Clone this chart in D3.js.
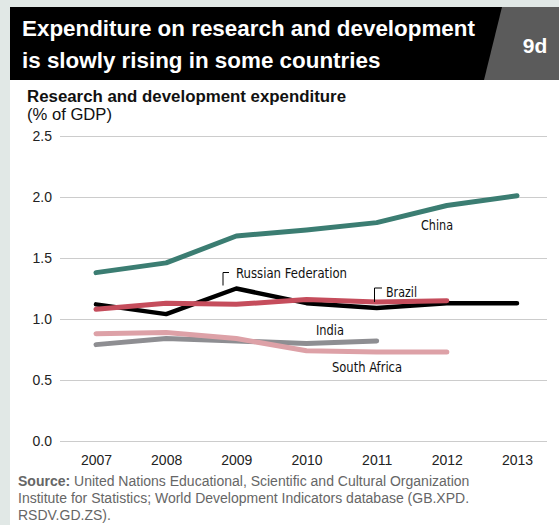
<!DOCTYPE html>
<html><head><meta charset="utf-8">
<script src="https://cdn.jsdelivr.net/npm/d3@7/dist/d3.min.js"></script>
<style>
html,body{margin:0;padding:0;background:#e1e8e6;}
svg{display:block;}
</style></head>
<body>
<script>
const years = [2007, 2008, 2009, 2010, 2011, 2012, 2013];
const yTicks = [0.0, 0.5, 1.0, 1.5, 2.0, 2.5];
const china = [1.38, 1.46, 1.68, 1.73, 1.79, 1.93, 2.01];
const russia = [1.12, 1.04, 1.25, 1.13, 1.09, 1.13, 1.13];
const brazil = [1.08, 1.13, 1.12, 1.16, 1.14, 1.15];
const india = [0.79, 0.84, 0.82, 0.80, 0.82];
const southAfrica = [0.88, 0.89, 0.84, 0.74, 0.73, 0.73];

const W = 559, H = 525;
const svg = d3.select("body").append("svg").attr("width", W).attr("height", H);
svg.append("rect").attr("width", W).attr("height", H).attr("fill", "#e1e8e6");
svg.append("rect").attr("x", 10).attr("y", 7).attr("width", W - 10).attr("height", H - 7).attr("fill", "#ffffff");

// Title bar
svg.append("rect").attr("x", 10).attr("y", 7).attr("width", 500).attr("height", 73).attr("fill", "#000");
svg.append("path").attr("d", "M502,7 L559,7 L559,80 L484,80 Z").attr("fill", "#5b5b5b");
const tf = "'Liberation Sans', Arial, sans-serif";
svg.append("text").attr("x", 22).attr("y", 35.5).attr("fill", "#fff").attr("font-family", tf)
  .attr("font-weight", "bold").attr("font-size", 22.4).text("Expenditure on research and development");
svg.append("text").attr("x", 22).attr("y", 67.5).attr("fill", "#fff").attr("font-family", tf)
  .attr("font-weight", "bold").attr("font-size", 22.4).text("is slowly rising in some countries");
svg.append("text").attr("x", 535).attr("y", 52.5).attr("fill", "#fff").attr("font-family", tf)
  .attr("font-weight", "bold").attr("font-size", 21).attr("text-anchor", "middle").text("9d");

// Subtitle
svg.append("text").attr("x", 27).attr("y", 101.5).attr("fill", "#111").attr("font-family", tf)
  .attr("font-weight", "bold").attr("font-size", 16).attr("textLength", 319).attr("lengthAdjust", "spacingAndGlyphs")
  .text("Research and development expenditure");
svg.append("text").attr("x", 27).attr("y", 120).attr("fill", "#111").attr("font-family", tf)
  .attr("font-size", 16).attr("textLength", 85).attr("lengthAdjust", "spacingAndGlyphs").text("(% of GDP)");

const x = d3.scalePoint().domain(years).range([96, 517]);
const y = d3.scaleLinear().domain([0, 2.5]).range([441, 136]);

// Grid + y labels
const yAxis = d3.axisLeft(y).tickValues(yTicks).tickFormat(d3.format(".1f")).tickSize(-487).tickPadding(8);
const gy = svg.append("g").attr("transform", "translate(60,0)").call(yAxis);
gy.select(".domain").remove();
gy.selectAll(".tick line").attr("stroke", "#cccccc").attr("stroke-width", 1.2);
gy.selectAll(".tick text").attr("font-family", tf).attr("font-size", 14).attr("fill", "#222");

// X labels
const xAxis = d3.axisBottom(x).tickSize(0).tickPadding(8);
const gx = svg.append("g").attr("transform", "translate(0,447)").call(xAxis);
gx.select(".domain").remove();
gx.selectAll(".tick text").attr("font-family", tf).attr("font-size", 14).attr("fill", "#222");

const line = d3.line().x((d, i) => x(years[i])).y(d => y(d));
const series = [
  {v: india, c: "#8e8e92", w: 5},
  {v: southAfrica, c: "#dda1a7", w: 5},
  {v: china, c: "#3b7d72", w: 5},
  {v: russia, c: "#000000", w: 4.5},
  {v: brazil, c: "#c54d5c", w: 5}
];
svg.append("g").selectAll("path").data(series).join("path")
  .attr("d", d => line(d.v)).attr("fill", "none").attr("stroke", d => d.c)
  .attr("stroke-width", d => d.w).attr("stroke-linecap", "round").attr("stroke-linejoin", "round");

// Labels
const lf = "'Liberation Sans Narrow', 'DejaVu Sans Condensed', 'Liberation Sans', sans-serif";
function lab(xp, yp, t, len) {
  svg.append("text").attr("x", xp).attr("y", yp).attr("font-family", lf).attr("font-size", 14.5)
    .attr("fill", "#111").attr("textLength", len).attr("lengthAdjust", "spacingAndGlyphs").text(t);
}
lab(421, 230, "China", 32);
lab(236, 278, "Russian Federation", 111);
lab(386, 297, "Brazil", 31);
lab(316, 335, "India", 28);
lab(332, 372, "South Africa", 70);

// Leader brackets
svg.append("path").attr("d", "M229,272.5 L223,272.5 L223," + (y(russia[2]) - 3))
  .attr("fill", "none").attr("stroke", "#000").attr("stroke-width", 1);
svg.append("path").attr("d", "M382,288 L374.5,288 L374.5," + (y(brazil[4]))  )
  .attr("fill", "none").attr("stroke", "#000").attr("stroke-width", 1);

// Source
const sf = "'Liberation Sans', Arial, sans-serif";
const src = svg.append("text").attr("font-family", sf).attr("font-size", 14).attr("fill", "#666");
const l1 = src.append("tspan").attr("x", 18).attr("y", 486);
l1.append("tspan").attr("font-weight", "bold").text("Source:");
l1.append("tspan").text(" United Nations Educational, Scientific and Cultural Organization");
src.append("tspan").attr("x", 18).attr("y", 503).text("Institute for Statistics; World Development Indicators database (GB.XPD.");
src.append("tspan").attr("x", 18).attr("y", 520).text("RSDV.GD.ZS).");
</script>
</body></html>
